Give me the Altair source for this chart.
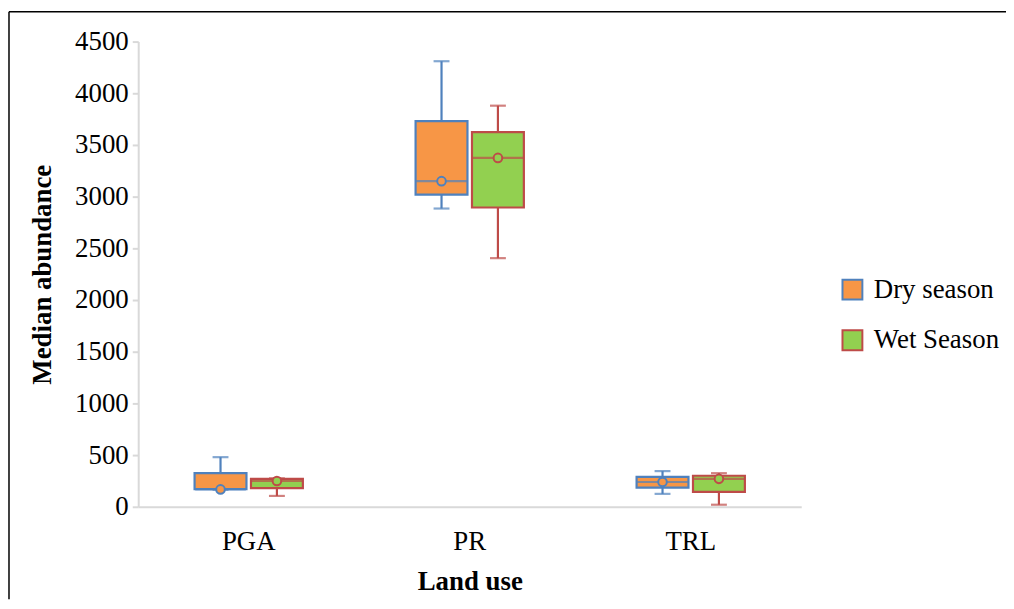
import altair as alt
import pandas as pd

land_use = ["PGA", "PR", "TRL"]
seasons = ["Dry season", "Wet Season"]

dry_min = [165, 2885, 125]
dry_q1 = [170, 3020, 185]
dry_median = [168, 3150, 240]
dry_q3 = [325, 3730, 290]
dry_max = [480, 4310, 345]

wet_min = [105, 2405, 20]
wet_q1 = [180, 2895, 145]
wet_median = [250, 3375, 270]
wet_q3 = [270, 3625, 300]
wet_max = [275, 3880, 325]

y_ticks = [0, 500, 1000, 1500, 2000, 2500, 3000, 3500, 4000, 4500]

fill_colors = ["#F79646", "#92D050"]
stroke_colors = ["#4F81BD", "#BE4B48"]

rows = []
for s, (mn, q1, md, q3, mx) in zip(
    seasons,
    [(dry_min, dry_q1, dry_median, dry_q3, dry_max),
     (wet_min, wet_q1, wet_median, wet_q3, wet_max)],
):
    for i, lu in enumerate(land_use):
        rows.append(dict(land=lu, season=s, mn=mn[i], q1=q1[i], med=md[i], q3=q3[i], mx=mx[i]))
df = pd.DataFrame(rows)

FONT = "Liberation Serif"

x_enc = alt.X(
    "land:N",
    sort=land_use,
    scale=alt.Scale(paddingInner=0.51, paddingOuter=0.255),
    axis=alt.Axis(
        title="Land use", labelAngle=0, ticks=False, labelPadding=22,
        titlePadding=14, domainColor="#D9D9D9", domainWidth=2,
    ),
)
xoff = alt.XOffset("season:N", sort=seasons, scale=alt.Scale(paddingInner=0.08, paddingOuter=0))
y_scale = alt.Scale(domain=[0, 4500], nice=False)

fill_scale = alt.Scale(domain=seasons, range=fill_colors)
stroke_scale = alt.Scale(domain=seasons, range=stroke_colors)

legend = alt.Legend(orient="none", legendX=705, legendY=236,
                    symbolType="square", symbolSize=400,
                    symbolStrokeWidth=2, labelFont=FONT,
                    labelFontSize=27, labelColor="black",
                    rowPadding=22, labelOffset=8, labelLimit=300)

fill_enc = alt.Fill("season:N", scale=fill_scale, title=None, legend=legend)
stroke_enc = alt.Stroke("season:N", scale=stroke_scale, title=None, legend=legend)

base = alt.Chart(df)

box = base.mark_bar(strokeWidth=2.2).encode(
    x=x_enc, xOffset=xoff,
    y=alt.Y("q1:Q", scale=y_scale, title="Median abundance",
            axis=alt.Axis(values=y_ticks, format="d", grid=False, domainColor="#D9D9D9",
                          domainWidth=2, tickColor="#D9D9D9", tickSize=6, tickWidth=2,
                          labelPadding=4, titlePadding=18)),
    y2="q3:Q",
    fill=fill_enc,
    stroke=stroke_enc,
)

whisker_low = base.mark_rule(strokeWidth=2.2).encode(
    x=x_enc, xOffset=xoff,
    y=alt.Y("mn:Q", scale=y_scale), y2="q1:Q",
    stroke=stroke_enc,
)
whisker_high = base.mark_rule(strokeWidth=2.2).encode(
    x=x_enc, xOffset=xoff,
    y=alt.Y("q3:Q", scale=y_scale), y2="mx:Q",
    stroke=stroke_enc,
)

caps_top = base.mark_tick(size=16, thickness=2.2).encode(
    x=x_enc, xOffset=xoff, y=alt.Y("mx:Q", scale=y_scale),
    color=alt.Color("season:N", scale=stroke_scale, legend=None),
)
caps_bot = base.mark_tick(size=16, thickness=2.2).encode(
    x=x_enc, xOffset=xoff, y=alt.Y("mn:Q", scale=y_scale),
    color=alt.Color("season:N", scale=stroke_scale, legend=None),
)

median_line = base.mark_tick(size=51, thickness=2.2).encode(
    x=x_enc, xOffset=xoff, y=alt.Y("med:Q", scale=y_scale),
    color=alt.Color("season:N", scale=stroke_scale, legend=None),
)

median_pt = base.mark_point(filled=False, size=75, strokeWidth=2, opacity=1).encode(
    x=x_enc, xOffset=xoff, y=alt.Y("med:Q", scale=y_scale),
    fill=fill_enc,
    stroke=stroke_enc,
)

frame_df = pd.DataFrame({"a": [0]})
frame_top = alt.Chart(frame_df).mark_rule(color="black", strokeWidth=1.5).encode(
    x=alt.value(-130), x2=alt.value(873), y=alt.value(-30)
)
frame_left = alt.Chart(frame_df).mark_rule(color="black", strokeWidth=1.5).encode(
    x=alt.value(-130), y=alt.value(-30), y2=alt.value(561)
)

chart = alt.layer(
    box, whisker_low, whisker_high, caps_top, caps_bot, median_line, median_pt,
    frame_top, frame_left
).properties(
    width=667, height=468,
    autosize=alt.AutoSizeParams(type="none"),
    padding={"left": 131, "top": 32, "right": 206, "bottom": 93},
    background="white",
).configure_view(stroke=None).configure_axis(
    labelFont=FONT, labelFontSize=27, labelColor="black",
    titleFont=FONT, titleFontSize=27, titleFontWeight="bold", titleColor="black",
)

chart.save("out.html", embed_options={"renderer": "svg", "actions": False})
